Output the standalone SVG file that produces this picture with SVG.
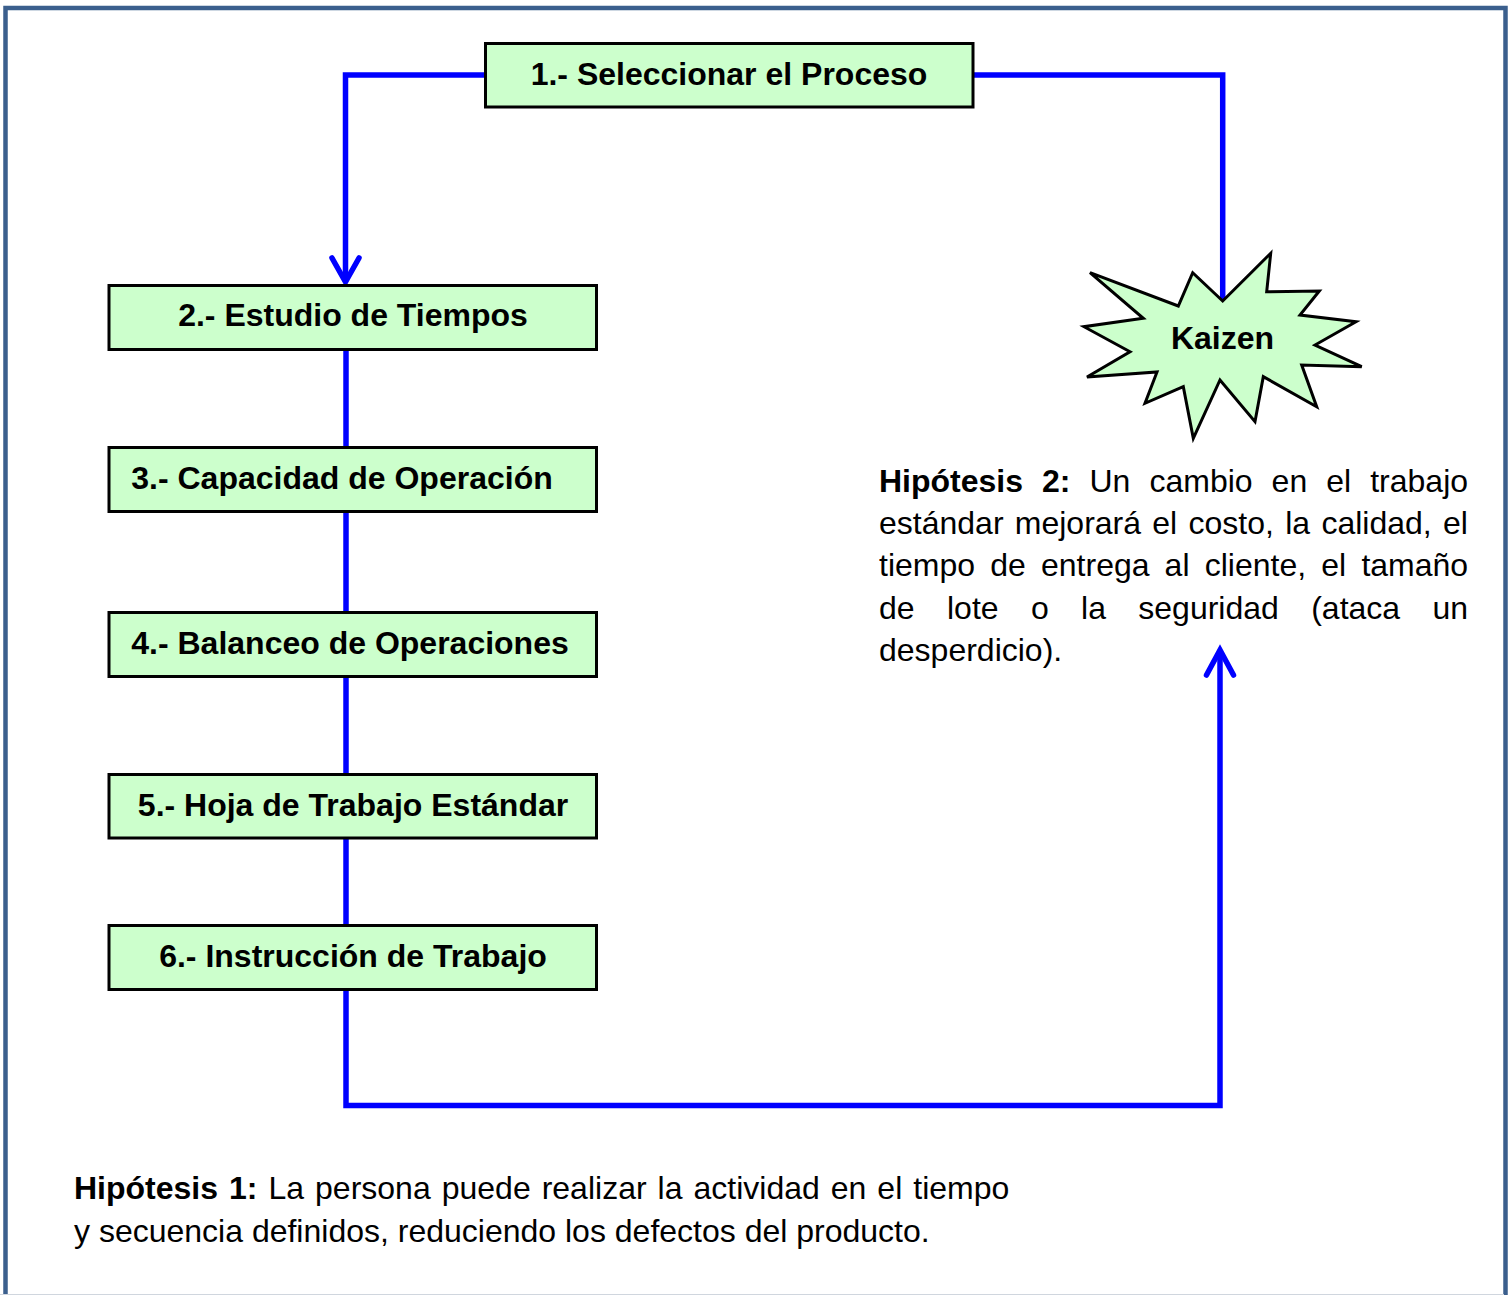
<svg xmlns="http://www.w3.org/2000/svg" width="1510" height="1295" viewBox="0 0 1510 1295">
  <defs>
    <style>
      .frame { fill: #ffffff; stroke: #3b5f8d; stroke-width: 4.5; }
      .box { fill: #ccffcc; stroke: #000000; stroke-width: 3; }
      .label { font-family: "Liberation Sans", Arial, sans-serif; font-size: 32px; font-weight: bold; fill: #000000; text-anchor: middle; }
      .body { font-family: "Liberation Sans", Arial, sans-serif; font-size: 32px; fill: #000000; }
      .body .b { font-weight: bold; }
      .wire { fill: none; stroke: #0000ff; stroke-width: 5.5; stroke-linejoin: miter; }
      .head { fill: none; stroke: #0000ff; stroke-width: 5.5; stroke-linecap: round; stroke-linejoin: miter; }
    </style>
  </defs>

  <!-- page frame -->
  <rect class="frame" x="5.5" y="8" width="1500" height="1300"/>
  <line x1="0" y1="1294.5" x2="1504" y2="1294.5" stroke="#d0d6de" stroke-width="1"/>

  <!-- connectors -->
  <g id="connectors">
    <polyline class="wire" points="486,75 345.5,75 345.5,282"/>
    <polyline class="head" points="332,258 345.5,282 359,258"/>
    <line class="wire" x1="346" y1="350" x2="346" y2="447"/>
    <line class="wire" x1="346" y1="512" x2="346" y2="612"/>
    <line class="wire" x1="346" y1="677" x2="346" y2="774"/>
    <line class="wire" x1="346" y1="838" x2="346" y2="925"/>
    <polyline class="wire" points="346,990 346,1105.5 1220,1105.5 1220,650"/>
    <polyline class="head" points="1206.5,675 1220,650 1233.5,675"/>
    <polyline class="wire" points="972,75 1222.7,75 1222.7,301"/>
  </g>

  <!-- process steps -->
  <g id="step1">
    <rect class="box" x="485.5" y="43.5" width="487.5" height="63.5"/>
    <text class="label" x="729" y="85">1.- Seleccionar el Proceso</text>
  </g>
  <g id="step2">
    <rect class="box" x="109" y="285.5" width="487.5" height="64"/>
    <text class="label" x="353" y="326">2.- Estudio de Tiempos</text>
  </g>
  <g id="step3">
    <rect class="box" x="109" y="447.5" width="487.5" height="64"/>
    <text class="label" x="342" y="489">3.- Capacidad de Operación</text>
  </g>
  <g id="step4">
    <rect class="box" x="109" y="612.5" width="487.5" height="64"/>
    <text class="label" x="350" y="654">4.- Balanceo de Operaciones</text>
  </g>
  <g id="step5">
    <rect class="box" x="109" y="774.5" width="487.5" height="63.5"/>
    <text class="label" x="353" y="816">5.- Hoja de Trabajo Estándar</text>
  </g>
  <g id="step6">
    <rect class="box" x="109" y="925.5" width="487.5" height="64"/>
    <text class="label" x="353" y="967">6.- Instrucción de Trabajo</text>
  </g>

  <!-- kaizen burst -->
  <g id="kaizen">
    <polygon class="box" points="1090,272.7 1178.3,306 1192.7,272.7 1222.7,301 1270.7,253.3 1266.7,291.7 1319.3,291 1300,315 1356,321.7 1315,345 1361.7,366.7 1301.7,365 1316.7,406.7 1263.3,376.7 1255,421.7 1220,380 1193.3,438.3 1183.3,386.7 1145,403.3 1157,372 1087,377 1130,351.7 1084,326.7 1143.3,318.3"/>
    <text class="label" x="1222.5" y="349">Kaizen</text>
  </g>

  <!-- hypothesis 2 (justified paragraph) -->
  <g id="hipotesis2">
    <text class="body" y="492"><tspan class="b" x="879">Hipótesis</tspan><tspan class="b" x="1042">2:</tspan><tspan x="1089.5">Un</tspan><tspan x="1149.5">cambio</tspan><tspan x="1271.6">en</tspan><tspan x="1326.3">el</tspan><tspan x="1370.2">trabajo</tspan></text>
    <text class="body" y="534"><tspan x="879">estándar</tspan><tspan x="1014.8">mejorará</tspan><tspan x="1152.3">el</tspan><tspan x="1188.5">costo,</tspan><tspan x="1285.2">la</tspan><tspan x="1321.4">calidad,</tspan><tspan x="1443">el</tspan></text>
    <text class="body" y="576"><tspan x="879">tiempo</tspan><tspan x="990.2">de</tspan><tspan x="1041">entrega</tspan><tspan x="1164.6">al</tspan><tspan x="1204.7">cliente,</tspan><tspan x="1321.3">el</tspan><tspan x="1361.4">tamaño</tspan></text>
    <text class="body" y="619"><tspan x="879">de</tspan><tspan x="947">lote</tspan><tspan x="1030.9">o</tspan><tspan x="1081.1">la</tspan><tspan x="1138.3">seguridad</tspan><tspan x="1311.2">(ataca</tspan><tspan x="1432.4">un</tspan></text>
    <text class="body" x="879" y="661">desperdicio).</text>
  </g>

  <!-- hypothesis 1 -->
  <g id="hipotesis1">
    <text class="body" x="74" y="1199" word-spacing="2.1"><tspan class="b">Hipótesis 1:</tspan> La persona puede realizar la actividad en el tiempo</text>
    <text class="body" x="74" y="1242">y secuencia definidos, reduciendo los defectos del producto.</text>
  </g>
</svg>
